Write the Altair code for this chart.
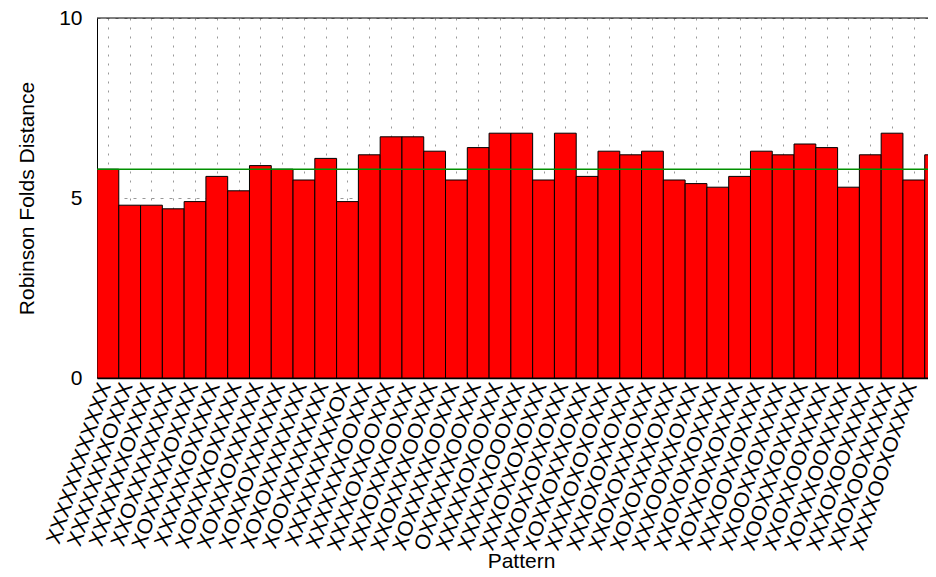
import json
import altair as alt
import pandas as pd

# ---- data ----
patterns = [
    "XXXXXXXXXXXX", "XXXXXXXXOXXX", "XXXXXXXOXXXX", "XXOXXXXXXXXX",
    "XOXXXXXOXXXX", "XXXXXXOXXXXX", "XOXXXXOXXXXX", "XOXXXOXXXXXX",
    "XOXXOXXXXXXX", "XOXOXXXXXXXX", "XOOXXXXXXXXX", "XXXXXXXXXXOX",
    "XXXXXXXOOXXX", "XXXXOXXOOXXX", "XXXOXXXOOXXX", "XXOXXXXOOXXX",
    "XOXXXXXOOXXX", "OXXXXXXOOXXX", "XXXXXOXOOXXX", "XXXXXXOOOXXX",
    "XXXOXXOXOXXX", "XXOXXOXXOXXX", "XOXXOXXXOXXX", "XXXXOXOXOXXX",
    "XXXOXOXXOXXX", "XXOXOXXXOXXX", "XOXOXXXXOXXX", "XXXOOXXXOXXX",
    "XXOXOXXOXXXX", "XOXXOXXOXXXX", "XXXOOXXOXXXX", "XXOOXXOXXXXX",
    "XOOXXXOXXXXX", "XXOXXOOXXXXX", "XOXXXOOXXXXX", "XXXOXOOXXXXX",
    "XXOXOOXXXXXX", "XXXXOOXOXXXX", "XXXXXOOOXXXX",
]
distances = [
    5.8, 4.8, 4.8, 4.7, 4.9, 5.6, 5.2, 5.9, 5.8, 5.5,
    6.1, 4.9, 6.2, 6.7, 6.7, 6.3, 5.5, 6.4, 6.8, 6.8,
    5.5, 6.8, 5.6, 6.3, 6.2, 6.3, 5.5, 5.4, 5.3, 5.6,
    6.3, 6.2, 6.5, 6.4, 5.3, 6.2, 6.8, 5.5, 6.2,
]
mean_distance = 5.8
y_ticks = [0, 5, 10]
y_max = 10
visible_bars = 38.15  # the reference is cropped inside the last bar

df = pd.DataFrame({
    "idx": list(range(len(patterns))),
    "pattern": patterns,
    "distance": distances,
})
mean_df = pd.DataFrame({"m": [mean_distance]})
top_df = pd.DataFrame({"top": [y_max]})

FONT = "Liberation Sans"
label_expr = json.dumps(patterns) + "[floor(datum.value)]"
tick_vals = [i + 0.5 for i in range(len(patterns))]

x_scale = alt.Scale(domain=[0, visible_bars], nice=False, zero=False)
y_scale = alt.Scale(domain=[0, y_max], nice=False)

x_axis = alt.Axis(
    values=tick_vals, labelExpr=label_expr, labelAngle=-72,
    labelFontSize=21, labelFont=FONT, labelColor="black",
    labelOverlap=False, labelFlush=False, labelLimit=400,
    labelPadding=5, labelOffset=-3, tickSize=0,
    domainColor="black", domainWidth=1.5,
    grid=True, gridColor="#999999", gridDash=[2, 7], gridWidth=1,
    title="Pattern", titleFont=FONT, titleFontSize=21,
    titleFontWeight="normal", titleColor="black",
    titleX=424, titleY=189, titleBaseline="alphabetic", titleAlign="center",
)
y_axis = alt.Axis(
    values=y_ticks, labelFontSize=21, labelFont=FONT, labelColor="black",
    labelPadding=15, tickSize=0, domainColor="black", domainWidth=1,
    grid=True, gridColor="#999999", gridDash=[3, 6], gridWidth=1,
    title="Robinson Folds Distance", titleFont=FONT, titleFontSize=21,
    titleFontWeight="normal", titleColor="black",
    titleX=-64, titleY=180, titleBaseline="alphabetic", titleAlign="center",
)

bars = alt.Chart(df).transform_calculate(
    idx_end="datum.idx + 1"
).mark_bar(color="#ff0000", stroke="black", strokeWidth=1, clip=True).encode(
    x=alt.X("idx:Q", scale=x_scale, axis=x_axis),
    x2="idx_end:Q",
    y=alt.Y("distance:Q", scale=y_scale, axis=y_axis),
    y2=alt.datum(0),
)

mean_line = alt.Chart(mean_df).mark_rule(color="#009000", strokeWidth=1.5).encode(
    y=alt.Y("m:Q", scale=y_scale)
)

top_border = alt.Chart(top_df).mark_rule(color="black", strokeWidth=1).encode(
    y=alt.Y("top:Q", scale=y_scale)
)

chart = alt.layer(bars, mean_line, top_border).properties(
    width=831, height=360,
    autosize=alt.AutoSizeParams(type="none"),
    padding={"left": 89, "top": 10, "right": 0, "bottom": 191},
    background="white",
).configure_view(stroke=None)

chart.save("out.html", embed_options={"renderer": "svg", "actions": False})
